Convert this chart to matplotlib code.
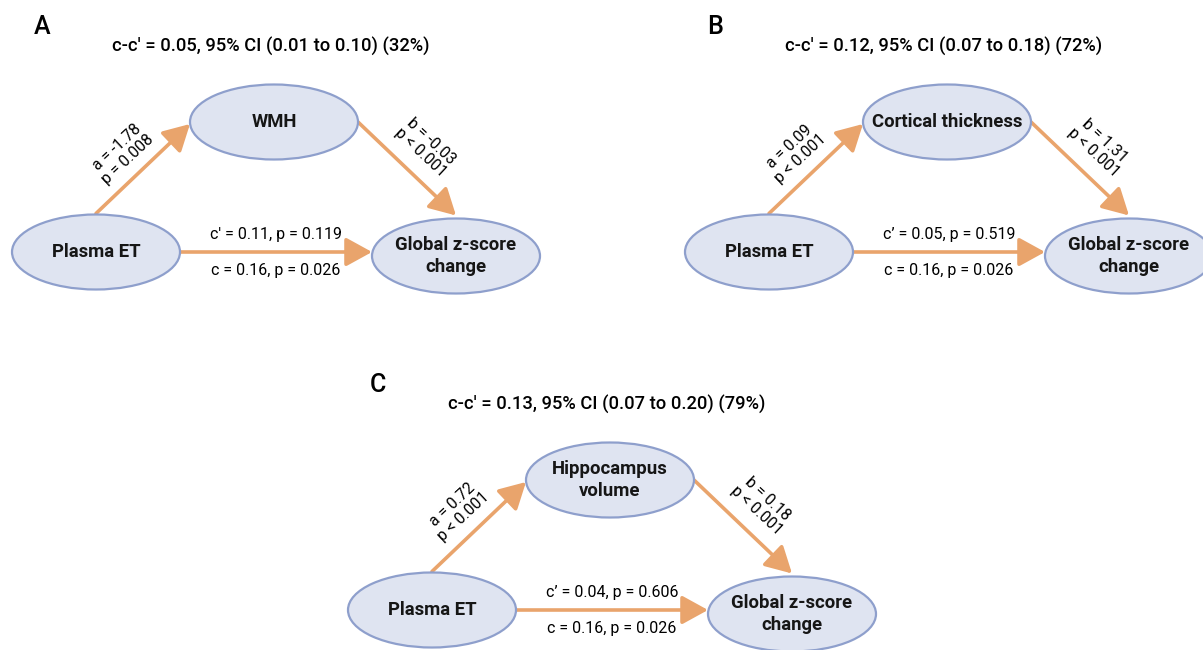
import matplotlib
matplotlib.use("Agg")
import matplotlib.pyplot as plt
from matplotlib.patches import Ellipse, FancyArrowPatch

plt.rcParams['font.family'] = ['Roboto', 'DejaVu Sans']

# ---------------------------------------------------------------- data
PANELS = ("A", "B", "C")
MEDIATORS = ("WMH", "Cortical thickness", "Hippocampus\nvolume")
INDIRECT = ("c-c' = 0.05, 95% CI (0.01 to 0.10) (32%)",
            "c-c' = 0.12, 95% CI (0.07 to 0.18) (72%)",
            "c-c' = 0.13, 95% CI (0.07 to 0.20) (79%)")
A_PATH = ("a = -1.78\np = 0.008", "a = 0.09\np < 0.001", "a = 0.72\np < 0.001")
B_PATH = ("b = -0.03\np < 0.001", "b = 1.31\np < 0.001", "b = 0.18\np < 0.001")
C_PRIME = ("c' = 0.11, p = 0.119", "c\u2019 = 0.05, p = 0.519", "c\u2019 = 0.04, p = 0.606")
C_TOTAL = ("c = 0.16, p = 0.026", "c = 0.16, p = 0.026", "c = 0.16, p = 0.026")
EXPOSURE = "Plasma ET"
OUTCOME = "Global z-score\nchange"

# ---------------------------------------------------------------- style / layout (pixels)
FILL = "#dfe4f1"
EDGE = "#8e9fcc"
ARROW = "#e9a46c"
OFFSETS = ((0, 0), (673, 0), (336, 358))    # panel origin shifts
W, H = 168, 75                              # ellipse size


def node(ax, x, y, text):
    ax.add_patch(Ellipse((x, y), W, H, facecolor=FILL, edgecolor=EDGE, lw=1.6, zorder=2))
    ax.text(x, y, text, ha="center", va="center", fontsize=13.3, fontweight="semibold",
            color="#161616", linespacing=1.3, zorder=3)


def arrow(ax, p0, p1):
    ax.add_patch(FancyArrowPatch(p0, p1, arrowstyle="-|>,head_length=10,head_width=5.5",
                                 color=ARROW, lw=2.6, shrinkA=0, shrinkB=0, zorder=1,
                                 mutation_scale=1.6))


fig = plt.figure(figsize=(12.03, 6.5), dpi=100)
ax = fig.add_axes([0, 0, 1, 1])
ax.set_xlim(0, 1203)
ax.set_ylim(650, 0)
ax.set_axis_off()

for i, (dx, dy) in enumerate(OFFSETS):
    px, py = 96 + dx, 252 + dy       # exposure
    mx, my = 274 + dx, 122 + dy      # mediator
    ox, oy = 456 + dx, 256 + dy      # outcome
    ax.text(34 + dx, 27 + dy, PANELS[i], fontsize=18, fontweight="medium", va="center", ha="left")
    ax.text(271 + dx, 47 + dy, INDIRECT[i], fontsize=13.2, fontweight="medium", va="center", ha="center")
    node(ax, px, py, EXPOSURE)
    node(ax, mx, my, MEDIATORS[i])
    node(ax, ox, oy, OUTCOME)
    arrow(ax, (px, py - H / 2 - 1), (mx - W / 2, my + 2))
    arrow(ax, (mx + W / 2, my), (ox, oy - H / 2 - 3))
    arrow(ax, (px + W / 2, py), (ox - W / 2, py))
    ax.text(122 + dx, 153 + dy, A_PATH[i], rotation=43, rotation_mode="anchor", ha="center",
            va="center", fontsize=11.3, linespacing=1.1)
    ax.text(426 + dx, 147 + dy, B_PATH[i], rotation=-43, rotation_mode="anchor", ha="center",
            va="center", fontsize=11.3, linespacing=1.1)
    ax.text(276 + dx, 235 + dy, C_PRIME[i], ha="center", va="center", fontsize=11.5)
    ax.text(276 + dx, 270 + dy, C_TOTAL[i], ha="center", va="center", fontsize=11.5)

fig.savefig("out.png", dpi=100)
